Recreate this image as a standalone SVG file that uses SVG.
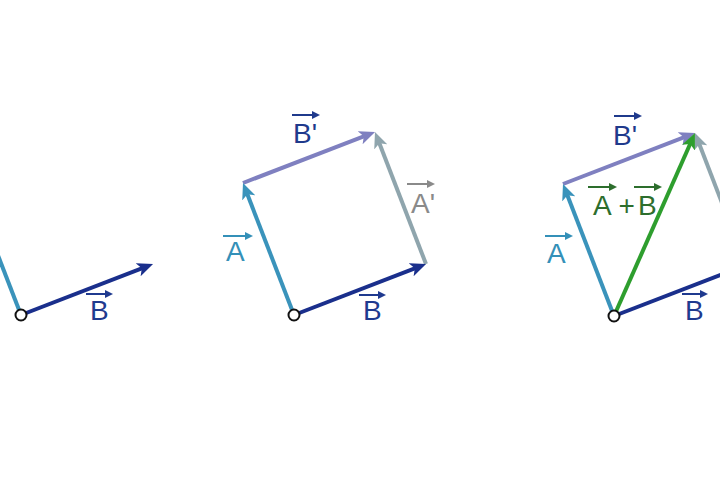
<svg xmlns="http://www.w3.org/2000/svg" width="720" height="500" viewBox="0 0 720 500">
<style>
.vec{stroke-width:4;fill:none;stroke-linecap:butt}
.lbl{font-family:"Liberation Sans",Arial,sans-serif;font-size:28px}
.ov{stroke-width:2;fill:none}
.origin{fill:#fff;stroke:#111;stroke-width:2}
</style>
<defs>
<marker id="hA" markerUnits="userSpaceOnUse" viewBox="0 0 16 14" refX="6" refY="7" markerWidth="16" markerHeight="14" orient="auto"><path d="M16,7 L0,0 L4,7 L0,14 Z" fill="#3a93bb"/></marker>
<marker id="hB" markerUnits="userSpaceOnUse" viewBox="0 0 16 14" refX="6" refY="7" markerWidth="16" markerHeight="14" orient="auto"><path d="M16,7 L0,0 L4,7 L0,14 Z" fill="#1a2f8c"/></marker>
<marker id="hBp" markerUnits="userSpaceOnUse" viewBox="0 0 16 14" refX="6" refY="7" markerWidth="16" markerHeight="14" orient="auto"><path d="M16,7 L0,0 L4,7 L0,14 Z" fill="#7f80c0"/></marker>
<marker id="hAp" markerUnits="userSpaceOnUse" viewBox="0 0 16 14" refX="6" refY="7" markerWidth="16" markerHeight="14" orient="auto"><path d="M16,7 L0,0 L4,7 L0,14 Z" fill="#8fa5ad"/></marker>
<marker id="hG" markerUnits="userSpaceOnUse" viewBox="0 0 16 14" refX="6" refY="7" markerWidth="16" markerHeight="14" orient="auto"><path d="M16,7 L0,0 L4,7 L0,14 Z" fill="#2e9e2e"/></marker>
</defs>
<rect width="720" height="500" fill="#fff"/>
<g id="connectors">
<line id="p1-A" class="vec" x1="21" y1="315" x2="-26.4" y2="192.3" stroke="#3a93bb" marker-end="url(#hA)"/>
<line id="p1-B" class="vec" x1="21" y1="315" x2="143.7" y2="267.6" stroke="#1a2f8c" marker-end="url(#hB)"/>
<line id="p2-Bp" class="vec" x1="243" y1="183" x2="365.7" y2="135.6" stroke="#7f80c0" marker-end="url(#hBp)"/>
<line id="p2-Ap" class="vec" x1="426" y1="264" x2="378.6" y2="141.3" stroke="#8fa5ad" marker-end="url(#hAp)"/>
<line id="p2-A" class="vec" x1="294" y1="315" x2="246.6" y2="192.3" stroke="#3a93bb" marker-end="url(#hA)"/>
<line id="p2-B" class="vec" x1="294" y1="315" x2="416.7" y2="267.6" stroke="#1a2f8c" marker-end="url(#hB)"/>
<line id="p3-Bp" class="vec" x1="563" y1="184" x2="685.7" y2="136.6" stroke="#7f80c0" marker-end="url(#hBp)"/>
<line id="p3-Ap" class="vec" x1="746" y1="265" x2="698.6" y2="142.3" stroke="#8fa5ad" marker-end="url(#hAp)"/>
<line id="p3-A" class="vec" x1="614" y1="316" x2="566.6" y2="193.3" stroke="#3a93bb" marker-end="url(#hA)"/>
<line id="p3-B" class="vec" x1="614" y1="316" x2="736.7" y2="268.6" stroke="#1a2f8c" marker-end="url(#hB)"/>
<line id="p3-sum" class="vec" x1="614" y1="316" x2="690.9" y2="142.2" stroke="#2e9e2e" marker-end="url(#hG)"/>
</g>
<g id="origin1"><circle class="origin" cx="21" cy="315" r="5.5"/></g>
<g id="origin2"><circle class="origin" cx="294" cy="315" r="5.5"/></g>
<g id="origin3"><circle class="origin" cx="614" cy="316" r="5.5"/></g>
<g id="labels">
<g id="lbl-p1-B" fill="#1f3a8f" stroke="#1f3a8f">
<text class="lbl" x="90" y="320" stroke="none">B</text>
<path class="ov" d="M86,294 H106"/><path d="M113,294 L105,290 L105,298 Z" stroke="none"/>
</g>
<g id="lbl-p2-Bp" fill="#1f3a8c" stroke="#1f3a8c">
<text class="lbl" x="293" y="143" stroke="none">B'</text>
<path class="ov" d="M292,115 H313"/><path d="M320,115 L312,111 L312,119 Z" stroke="none"/>
</g>
<g id="lbl-p2-Ap" fill="#8a8a8a" stroke="#8a8a8a">
<text class="lbl" x="411" y="213" stroke="none">A'</text>
<path class="ov" d="M407,184 H428"/><path d="M435,184 L427,180 L427,188 Z" stroke="none"/>
</g>
<g id="lbl-p2-A" fill="#3490b8" stroke="#3490b8">
<text class="lbl" x="226" y="261" stroke="none">A</text>
<path class="ov" d="M223,236 H246"/><path d="M253,236 L245,232 L245,240 Z" stroke="none"/>
</g>
<g id="lbl-p2-B" fill="#1f3a8f" stroke="#1f3a8f">
<text class="lbl" x="363" y="320" stroke="none">B</text>
<path class="ov" d="M359,295 H379"/><path d="M386,295 L378,291 L378,299 Z" stroke="none"/>
</g>
<g id="lbl-p3-Bp" fill="#1f3a8c" stroke="#1f3a8c">
<text class="lbl" x="613" y="145" stroke="none">B'</text>
<path class="ov" d="M614,116 H635"/><path d="M642,116 L634,112 L634,120 Z" stroke="none"/>
</g>
<g id="lbl-p3-A" fill="#3490b8" stroke="#3490b8">
<text class="lbl" x="547" y="263" stroke="none">A</text>
<path class="ov" d="M545,236 H566"/><path d="M573,236 L565,232 L565,240 Z" stroke="none"/>
</g>
<g id="lbl-p3-sum" fill="#2d6e2d" stroke="#2d6e2d">
<text class="lbl" x="593" y="215" stroke="none">A</text>
<text class="lbl" x="618.5" y="215" stroke="none">+</text>
<text class="lbl" x="638" y="215" stroke="none">B</text>
<path class="ov" d="M588,187 H610"/><path d="M617,187 L609,183 L609,191 Z" stroke="none"/>
<path class="ov" d="M634,187 H655"/><path d="M662,187 L654,183 L654,191 Z" stroke="none"/>
</g>
<g id="lbl-p3-B" fill="#1f3a8f" stroke="#1f3a8f">
<text class="lbl" x="685" y="320" stroke="none">B</text>
<path class="ov" d="M682,294 H701"/><path d="M708,294 L700,290 L700,298 Z" stroke="none"/>
</g>
</g>
</svg>
